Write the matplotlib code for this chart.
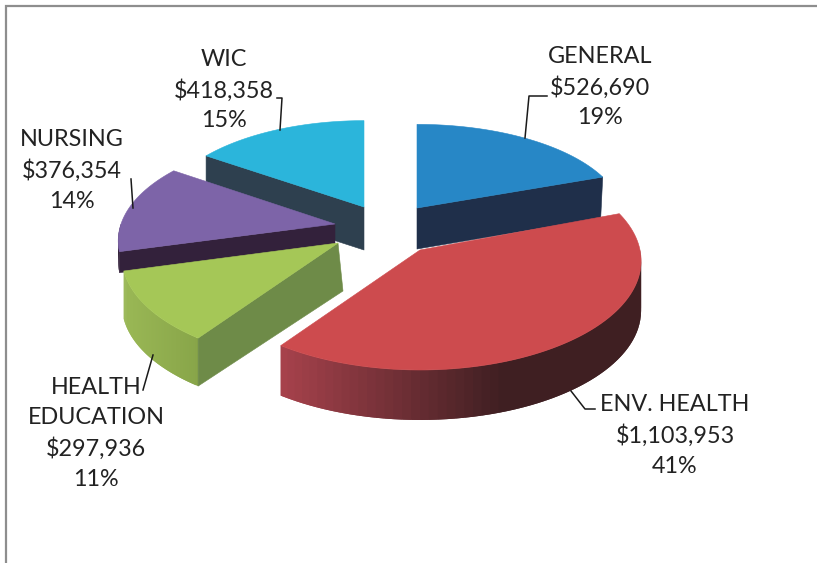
import numpy as np
import matplotlib
matplotlib.use("Agg")
import matplotlib.pyplot as plt
from matplotlib.colors import to_rgb
from matplotlib.patches import Polygon

categories = ["GENERAL", "ENV. HEALTH", "HEALTH\nEDUCATION", "NURSING", "WIC"]
values = [526690, 1103953, 297936, 376354, 418358]

# layout of each exploded slice (pixels): apex, radii, thickness, perspective
apex_x = [417, 420, 338, 335, 364]
apex_y = [208, 250, 243, 224, 207]
rad_x = [205, 220, 214, 214, 203]
rad_y = [92, 108, 104, 102, 95]
persp = [0.1, 0.1, 0.136, 0.16, 0.1]
thick = [41, 50, 48, 21, 43]
lean_apex = [0, 0, 5, 0, 0]
lean_tip = [-2, 0, 0, 0, 0]
top_cols = ["#2787C6", "#CD4B4E", "#A5C757", "#7D64A8", "#2BB5DB"]
face_cols = ["#1F2F4A", "#3F1F22", "#6E8B48", "#33213B", "#2E404F"]
wall_left = ["#1F2F4A", "#A8424C", "#9AB855", "#33213B", "#2E404F"]
wall_right = ["#1F2F4A", "#3F1F22", "#88A549", "#33213B", "#2E404F"]
wall_span = [(400, 620), (283, 506), (124, 200), (120, 175), (205, 365)]
draw_order = [4, 0, 3, 2, 1]

label_xy = [(600, 87), (675, 435.5), (96, 433.5), (72, 170.5), (224, 90)]
leaders = [
    [(525, 138), (529, 96), (547, 96)],
    [(571, 391), (585, 409), (595, 409)],
    [(153, 355), (143, 390)],
    [(133, 208), (131, 179)],
    [(280, 130), (282, 98), (277, 98)],
]

fig = plt.figure(figsize=(8.17, 5.63), dpi=100, facecolor="white")
ax = fig.add_axes([0, 0, 1, 1])
ax.set_xlim(0, 817)
ax.set_ylim(563, 0)
ax.axis("off")

ax.plot([6.5, 6.5, 817], [563, 5.5, 5.5], color="#8E8E8E", lw=1.6,
        solid_joinstyle="miter", zorder=1)

total = sum(values)
cum = np.concatenate([[0], np.cumsum(values)]) / total * 360.0


def project(i, t):
    r = np.radians(t)
    s = 1.0 / (1.0 + persp[i] * np.cos(r))
    return (apex_x[i] + rad_x[i] * np.sin(r) * s,
            apex_y[i] - rad_y[i] * np.cos(r) * s)


def quad(pts, color, z, lw=0.4):
    ax.add_patch(Polygon(pts, closed=True, facecolor=color,
                         edgecolor=color if lw else "none",
                         lw=lw, joinstyle="round", zorder=z))


z = 2
for i in draw_order:
    t0, t1 = cum[i], cum[i + 1]
    d = thick[i]
    # outer wall: later strips overlap the earlier ones so no seams show
    a, b = max(t0, 90), min(t1, 270)
    if b > a:
        ts = np.linspace(a, b, 61)
        c0, c1 = np.array(to_rgb(wall_left[i])), np.array(to_rgb(wall_right[i]))
        for k in range(60):
            u, v = ts[k], ts[min(k + 2, 60)]
            x0, y0 = project(i, u)
            x1, y1 = project(i, v)
            f = np.clip((x0 - wall_span[i][0]) / (wall_span[i][1] - wall_span[i][0]), 0, 1)
            quad([(x0, y0), (x1, y1), (x1, y1 + d), (x0, y0 + d)],
                 tuple(c0 + (c1 - c0) * f), z, lw=0)
    z += 1
    # visible radial faces
    for t, visible in ((t0, 180 < t0 < 360), (t1, 0 < t1 < 180)):
        if visible:
            x, y = project(i, t)
            quad([(x, y), (x + lean_tip[i], y + d),
                  (apex_x[i] + lean_apex[i], apex_y[i] + d),
                  (apex_x[i], apex_y[i])], face_cols[i], z)
    z += 1
    # top face
    arc = [project(i, t) for t in np.linspace(t0, t1, 120)]
    quad([(apex_x[i], apex_y[i])] + arc, top_cols[i], z)
    z += 1

for pts in leaders:
    xs, ys = zip(*pts)
    ax.plot(xs, ys, color="#1A1A1A", lw=1.1, zorder=z)

for name, v, (x, y) in zip(categories, values, label_xy):
    txt = f"{name}\n${v:,}\n{round(v / total * 100)}%"
    ax.text(x, y, txt, ha="center", va="center", multialignment="center",
            fontsize=16.8, family="Lato", color="#222222", linespacing=1.51,
            zorder=z + 1)

fig.savefig("out.png", dpi=100)
